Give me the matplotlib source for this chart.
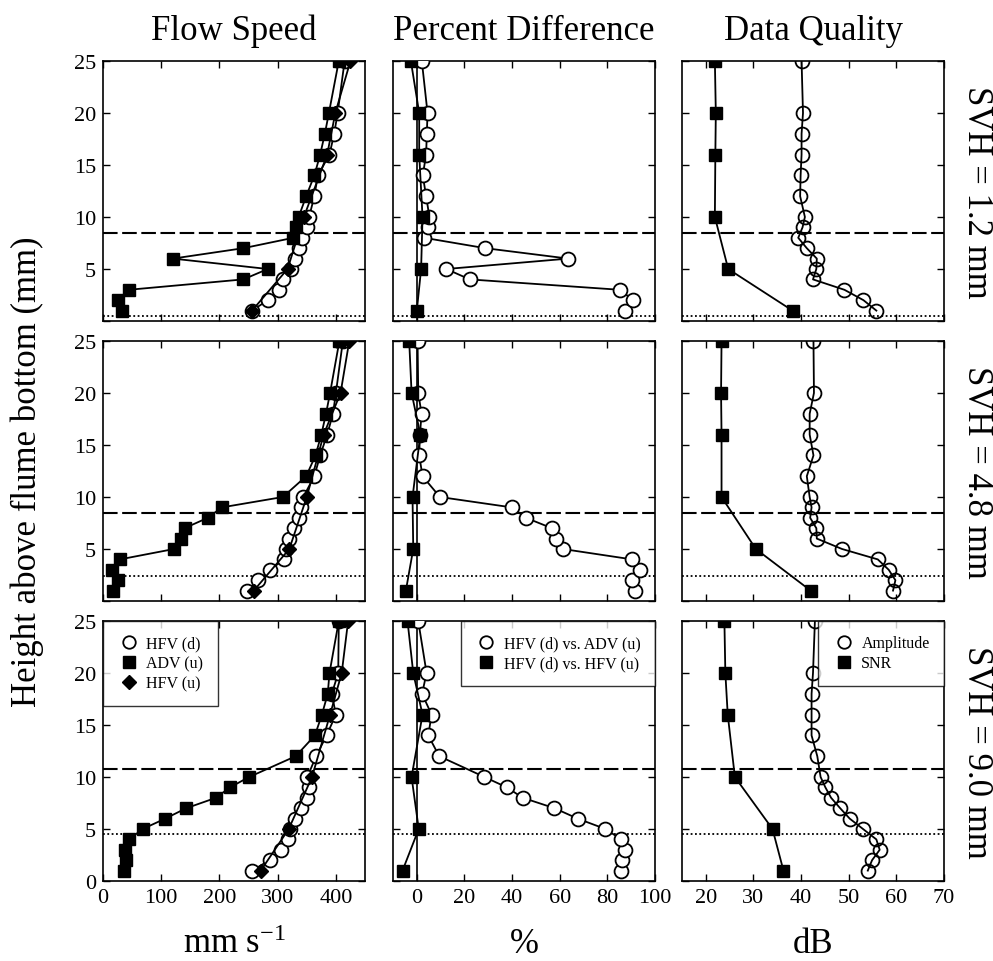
import matplotlib
matplotlib.use('Agg')
import matplotlib.pyplot as plt
from matplotlib.lines import Line2D

plt.rcParams['font.family'] = ['Liberation Serif', 'DejaVu Serif']
plt.rcParams['mathtext.fontset'] = 'custom'
plt.rcParams['mathtext.rm'] = 'Liberation Serif'
plt.rcParams['mathtext.it'] = 'Liberation Serif:italic'

# heights above flume bottom (mm)
heights_d = [1, 2, 3, 4, 5, 6, 7, 8, 9, 10, 12, 14, 16, 18, 20, 25]
heights_u = [1, 5, 10, 16, 20, 25]

svh_labels = ['SVH = 1.2 mm', 'SVH = 4.8 mm', 'SVH = 9.0 mm']
dashed_level = [8.5, 8.5, 10.8]
dotted_level = [0.5, 2.4, 4.5]

# flow speed (mm/s)
hfv_d_1 = [256, 283, 303, 309, 323, 329, 336, 342, 350, 354, 363, 369, 389, 397, 403, 415]
adv_u_1 = [33, 25, 44, 241, 283, 120, 241, 327, 332, 336, 349, 363, 373, 381, 388, 405]
hfv_u_1 = [256, 317, 345, 385, 399, 425]

hfv_d_2 = [248, 267, 287, 311, 315, 320, 328, 336, 340, 344, 363, 373, 385, 395, 400, 412]
adv_u_2 = [18, 25, 15, 29, 122, 134, 140, 180, 204, 309, 349, 365, 375, 383, 390, 406]
hfv_u_2 = [259, 320, 350, 379, 408, 423]

hfv_d_3 = [256, 286, 305, 318, 322, 329, 340, 350, 353, 351, 366, 384, 400, 393, 404, 405]
adv_u_3 = [36, 39, 38, 45, 68, 107, 143, 194, 218, 251, 331, 364, 376, 386, 389, 405]
hfv_u_3 = [271, 319, 359, 390, 410, 421]

# percent difference (%)
pct_adv_1 = [87.3, 90.8, 85.3, 22.2, 12.4, 63.6, 28.8, 3.1, 4.9, 5.3, 3.9, 2.5, 3.9, 4.2, 4.5, 2.1]
pct_hfv_1 = [0.0, 1.8, 2.4, 1.0, 1.0, -2.5]

pct_adv_2 = [91.5, 90.4, 93.9, 90.4, 61.3, 58.4, 56.7, 45.8, 39.9, 9.7, 2.4, 1.0, 1.3, 2.0, 0.6, 0.3]
pct_hfv_2 = [-4.6, -1.5, -1.8, 1.5, -2.2, -3.2]

pct_adv_3 = [85.8, 86.2, 87.2, 85.8, 79.2, 67.5, 57.8, 44.5, 37.8, 28.4, 9.4, 4.8, 6.2, 2.2, 4.1, 0.6]
pct_hfv_3 = [-6.0, 0.8, -2.2, 2.4, -1.5, -3.9]

# data quality (dB)
amp_1 = [55.8, 53.1, 49.1, 42.5, 43.2, 43.3, 41.2, 39.4, 40.3, 40.8, 39.8, 39.9, 40.1, 40.1, 40.4, 40.1]
snr_1 = [38.2, 24.7, 21.9, 22.0, 22.1, 21.9]

amp_2 = [59.3, 59.8, 58.4, 56.1, 48.6, 43.3, 43.2, 41.9, 42.2, 41.8, 41.2, 42.6, 41.8, 41.8, 42.7, 42.6]
snr_2 = [42.0, 30.5, 23.3, 23.3, 23.2, 23.3]

amp_3 = [54.0, 54.9, 56.5, 55.8, 53.0, 50.2, 48.2, 46.3, 45.1, 44.1, 43.4, 42.2, 42.2, 42.2, 42.5, 42.9]
snr_3 = [36.3, 34.0, 26.1, 24.6, 24.1, 23.9]

hfv_d = [hfv_d_1, hfv_d_2, hfv_d_3]
adv_u = [adv_u_1, adv_u_2, adv_u_3]
hfv_u = [hfv_u_1, hfv_u_2, hfv_u_3]
pct_adv = [pct_adv_1, pct_adv_2, pct_adv_3]
pct_hfv = [pct_hfv_1, pct_hfv_2, pct_hfv_3]
amp = [amp_1, amp_2, amp_3]
snr = [snr_1, snr_2, snr_3]

W, H = 993, 962
fig = plt.figure(figsize=(W / 100, H / 100), dpi=100)

col_left = [103, 393, 682]
row_top = [62, 342, 622]
ax_w, ax_h = 262, 260

circ = dict(marker='o', ms=10, mfc='white', mec='black', mew=1.3, color='black', lw=1.3)
circ_q = dict(circ, mfc='none')
sq = dict(marker='s', ms=8.5, mfc='black', mec='black', color='black', lw=1.3)
dia = dict(marker='D', ms=7.5, mfc='black', mec='black', color='black', lw=1.3)


def setup(ax, r, xlim, xticks, show_x, show_y):
    ax.set_xlim(*xlim)
    ax.set_ylim(0, 25)
    ax.set_xticks(xticks)
    ax.set_yticks([0, 5, 10, 15, 20, 25])
    ax.tick_params(direction='in', top=True, right=True, length=5, width=1,
                   labelsize=16, pad=5)
    if not show_x:
        ax.set_xticklabels([])
    if show_y:
        labels = ['0', '5', '10', '15', '20', '25']
        if r < 2:
            labels[0] = ''
        ax.set_yticklabels(labels)
    else:
        ax.set_yticklabels([])
    for s in ax.spines.values():
        s.set_linewidth(1.2)
    ax.axhline(dashed_level[r], color='black', lw=1.5, ls=(0, (7, 2.2)), zorder=1)
    ax.axhline(dotted_level[r], color='black', lw=1.3, ls=(0, (1, 1.4)), zorder=1)


for r in range(3):
    bottom = 1 - (row_top[r] + ax_h) / H
    last = r == 2
    axes = [fig.add_axes([col_left[c] / W, bottom, ax_w / W, ax_h / H]) for c in range(3)]
    a1, a2, a3 = axes

    setup(a1, r, (0, 450), [0, 100, 200, 300, 400], last, True)
    a1.plot(hfv_d[r], heights_d, zorder=3, **circ)
    a1.plot(adv_u[r], heights_d, zorder=4, **sq)
    a1.plot(hfv_u[r], heights_u, zorder=5, **dia)

    setup(a2, r, (-10, 100), [0, 20, 40, 60, 80, 100], last, False)
    a2.axvline(0, color='black', lw=1.2, zorder=1)
    a2.plot(pct_adv[r], heights_d, zorder=3, **circ)
    a2.plot(pct_hfv[r], heights_u, zorder=4, **sq)

    setup(a3, r, (15, 70), [20, 30, 40, 50, 60, 70], last, False)
    a3.plot(amp[r], heights_d, zorder=3, **circ_q)
    a3.plot(snr[r], heights_u, zorder=4, **sq)

    fig.text(977 / W, 1 - (row_top[r] + ax_h / 2) / H, svh_labels[r], rotation=-90,
             ha='center', va='center', fontsize=25)

    if last:
        leg_kw = dict(frameon=True, fancybox=False, edgecolor='black', fontsize=11.5,
                      borderaxespad=0, handletextpad=0.4, labelspacing=0.25,
                      borderpad=0.9, handlelength=1.4)
        h1 = [Line2D([], [], ls='none', marker='o', ms=9, mfc='white', mec='black', mew=1.3),
              Line2D([], [], ls='none', marker='s', ms=8.5, color='black'),
              Line2D([], [], ls='none', marker='D', ms=7.5, color='black')]
        lg = a1.legend(h1, ['HFV (d)', 'ADV (u)', 'HFV (u)'], loc='upper left', **leg_kw)
        lg.get_frame().set_linewidth(1.0)
        h2 = h1[:2]
        lg = a2.legend(h2, ['HFV (d) vs. ADV (u)', 'HFV (d) vs. HFV (u)'],
                       loc='upper right', **leg_kw)
        lg.get_frame().set_linewidth(1.0)
        lg = a3.legend(h2, ['Amplitude', 'SNR'], loc='upper right', **leg_kw)
        lg.get_frame().set_linewidth(1.0)

# column titles and axis labels
titles = ['Flow Speed', 'Percent Difference', 'Data Quality']
units = ['mm s$^{-1}$', '%', 'dB']
for c in range(3):
    cx = (col_left[c] + ax_w / 2) / W
    fig.text(cx, 1 - 40 / H, titles[c], ha='center', va='baseline', fontsize=25)
    fig.text(cx, 1 - 953 / H, units[c], ha='center', va='baseline', fontsize=25)

fig.text(27 / W, 1 - 472 / H, 'Height above flume bottom (mm)', rotation=90,
         ha='center', va='center', fontsize=25)

fig.savefig('out.png', dpi=100)
